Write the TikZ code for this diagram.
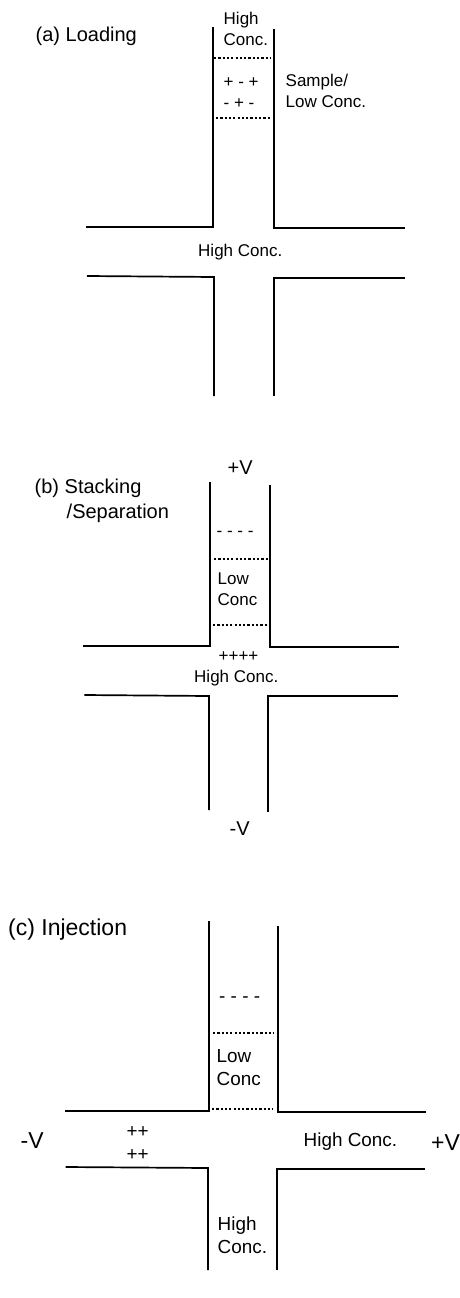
\documentclass[tikz,border=0pt]{standalone}
\usepackage{fontspec}
\setmainfont{Liberation Sans}
\tikzset{
 wall/.style={line width=1.7pt,black},
 dots/.style={line width=2pt,black,dash pattern=on 2.2pt off 2.1pt},
 lab/.style={inner sep=0pt,align=left,anchor=base west,font=\fontsize{17}{21}\selectfont},
 mid/.style={lab,font=\fontsize{18.9}{23}\selectfont},
 big/.style={lab,font=\fontsize{20}{25}\selectfont},
 huge/.style={lab,font=\fontsize{23}{25}\selectfont},
}
\newcommand{\Pt}[3]{\coordinate (#1) at (#2pt,-#3pt);}
\begin{document}
\begin{tikzpicture}[x=1pt,y=1pt]
\useasboundingbox (0,0) rectangle (460,-1298);
% (a)
\Pt{a1}{213}{27}\Pt{a2}{213}{227}\Pt{a3}{86}{227}
\Pt{a4}{274}{29}\Pt{a5}{274}{228}\Pt{a6}{404.5}{228}
\Pt{a7}{87}{276}\Pt{a8}{214}{277}\Pt{a9}{214}{396}
\Pt{a10}{404.5}{278}\Pt{a11}{274}{278}\Pt{a12}{274}{396}
\draw[wall] (a1)--(a2)--(a3);
\draw[wall] (a4)--(a5)--(a6);
\draw[wall] (a7)--(a8)--(a9);
\draw[wall] (a10)--(a11)--(a12);
\Pt{a13}{214}{58}\Pt{a14}{271}{58}\Pt{a15}{216}{118}\Pt{a16}{270}{118}
\draw[dots] (a13)--(a14);
\draw[dots] (a15)--(a16);
\node[big] (ta) at (35.5,-41.7) {(a) Loading};
\node[lab] (ta1) at (223.5,-45.7) {High\\Conc.};
\node[lab] (ta2) at (223.5,-108.5) {+ - +\\- + -};
\node[lab] (ta3) at (285.5,-107) {Sample/\\Low Conc.};
\node[lab] (ta4) at (198,-256) {High Conc.};
% (b)
\Pt{b1}{210}{482}\Pt{b2}{210}{646}\Pt{b3}{83.3}{646}
\Pt{b4}{270}{485}\Pt{b5}{270}{647}\Pt{b6}{398.5}{647}
\Pt{b7}{84.3}{695}\Pt{b8}{209}{696}\Pt{b9}{209}{810}
\Pt{b10}{397.5}{696}\Pt{b11}{268}{696}\Pt{b12}{268}{812}
\draw[wall] (b1)--(b2)--(b3);
\draw[wall] (b4)--(b5)--(b6);
\draw[wall] (b7)--(b8)--(b9);
\draw[wall] (b10)--(b11)--(b12);
\Pt{b13}{214}{559}\Pt{b14}{268}{559}\Pt{b15}{213}{625}\Pt{b16}{267}{625}
\draw[dots] (b13)--(b14);
\draw[dots] (b15)--(b16);
\node[big] (tb0) at (227.5,-474) {+V};
\node[big] (tb) at (34.5,-518) {(b) Stacking\\\hspace*{32pt}/Separation};
\node[lab] (tb1) at (216.5,-536) {- - - -};
\node[lab] (tb2) at (217.5,-605) {Low\\Conc};
\node[lab] (tb3) at (194,-682.7) {\hspace*{24.5pt}++++\\High Conc.};
\node[big] (tb4) at (229.5,-835) {-V};
% (c)
\Pt{c1}{209}{921}\Pt{c2}{209}{1111}\Pt{c3}{64.7}{1111}
\Pt{c4}{278}{925.7}\Pt{c5}{278}{1112}\Pt{c6}{426}{1112}
\Pt{c7}{65.7}{1167}\Pt{c8}{208}{1168}\Pt{c9}{208}{1270}
\Pt{c10}{425}{1169}\Pt{c11}{277}{1169}\Pt{c12}{277}{1270}
\draw[wall] (c1)--(c2)--(c3);
\draw[wall] (c4)--(c5)--(c6);
\draw[wall] (c7)--(c8)--(c9);
\draw[wall] (c10)--(c11)--(c12);
\Pt{c13}{213}{1033}\Pt{c14}{274}{1033}\Pt{c15}{212}{1109}\Pt{c16}{273}{1109}
\draw[dots] (c13)--(c14);
\draw[dots] (c15)--(c16);
\node[huge] (tc) at (8,-935) {(c) Injection};
\node[mid] (tc1) at (219,-1002) {- - - -};
\node[mid] (tc2) at (216.5,-1085) {Low\\Conc};
\node[huge] (tc3) at (20.5,-1148) {-V};
\node[mid] (tc4) at (126.5,-1160) {++\\++};
\node[mid] (tc5) at (303.5,-1146.7) {High Conc.};
\node[huge] (tc6) at (431,-1150) {+V};
\node[mid] (tc7) at (217.5,-1253) {High\\Conc.};
\end{tikzpicture}
\end{document}
